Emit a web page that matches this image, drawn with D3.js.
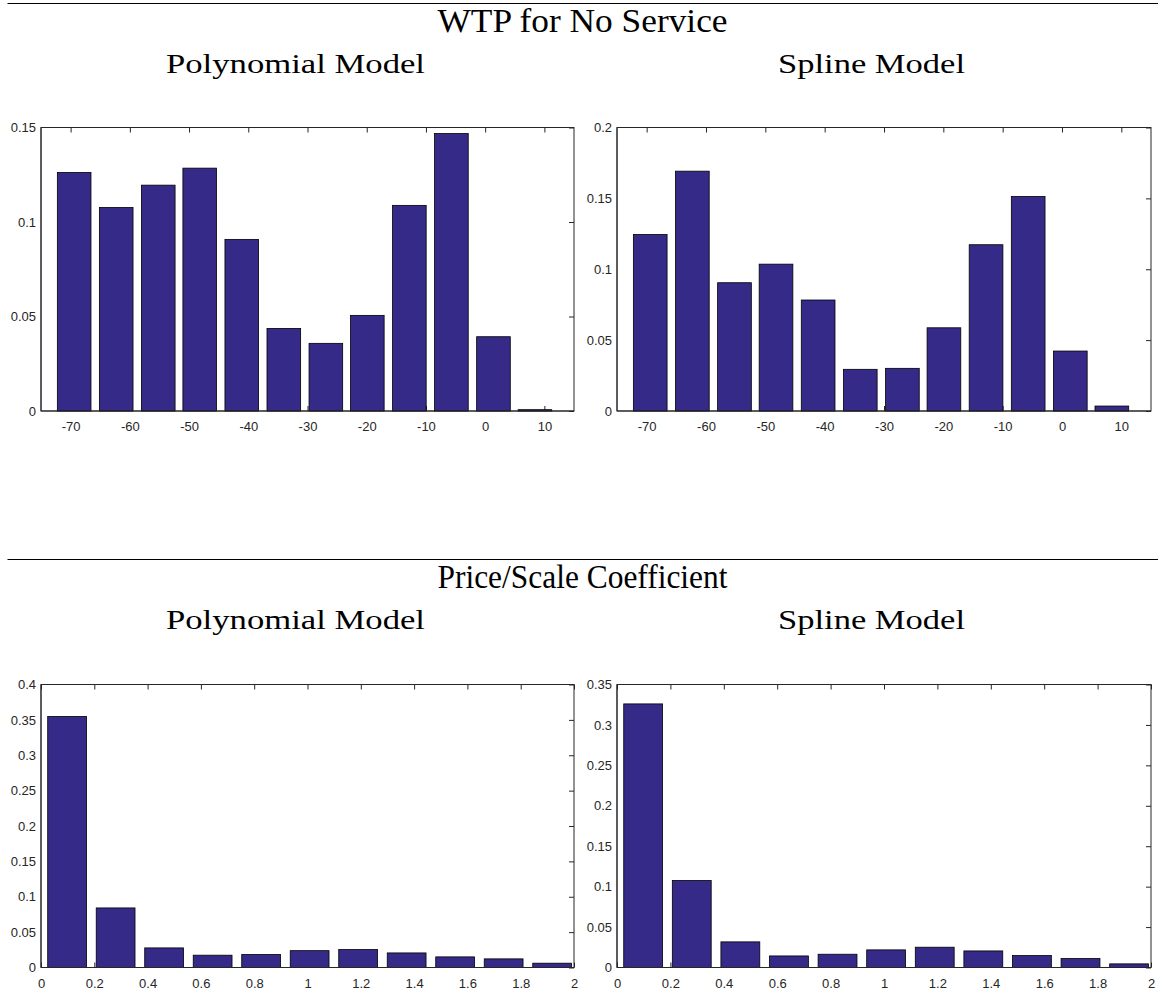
<!DOCTYPE html>
<html>
<head>
<meta charset="utf-8">
<script src="https://cdn.jsdelivr.net/npm/d3@7"></script>
<style>
  body { margin: 0; background: #fff; }
  svg { display: block; }
</style>
</head>
<body>
<script>
// Histogram bin centres and relative frequencies
const wtpCenters = [-69.4, -62.3, -55.2, -48.2, -41.1, -34.0, -26.9, -19.9, -12.8, -5.7, 1.4, 8.4];
const wtpPoly    = [0.1262, 0.1077, 0.1195, 0.1285, 0.0908, 0.0437, 0.0358, 0.0506, 0.1088, 0.1468, 0.0393, 0.0007];
const wtpSpline  = [0.1245, 0.1692, 0.0905, 0.1036, 0.0783, 0.0294, 0.0301, 0.0587, 0.1173, 0.1513, 0.0423, 0.0035];
const wtpTicksX  = [-70, -60, -50, -40, -30, -20, -10, 0, 10];
const wtpTicksYPoly   = [0, 0.05, 0.1, 0.15];
const wtpTicksYSpline = [0, 0.05, 0.1, 0.15, 0.2];

const priceCenters = [0.098, 0.280, 0.462, 0.644, 0.826, 1.008, 1.190, 1.372, 1.554, 1.736, 1.918];
const pricePoly    = [0.3548, 0.0842, 0.0277, 0.0174, 0.0184, 0.0238, 0.0254, 0.0206, 0.0150, 0.0122, 0.0061];
const priceSpline  = [0.3260, 0.1076, 0.0317, 0.0143, 0.0164, 0.0218, 0.0251, 0.0205, 0.0148, 0.0111, 0.0045];
const priceTicksX  = [0, 0.2, 0.4, 0.6, 0.8, 1, 1.2, 1.4, 1.6, 1.8, 2];
const priceTicksYPoly   = [0, 0.05, 0.1, 0.15, 0.2, 0.25, 0.3, 0.35, 0.4];
const priceTicksYSpline = [0, 0.05, 0.1, 0.15, 0.2, 0.25, 0.3, 0.35];

const W = 1163, H = 993;
const BAR_FILL = "#352a87";
const AX = "#262626";
const fmt = d => String(+d.toFixed(3));

const svg = d3.select("body").append("svg")
  .attr("width", W).attr("height", H)
  .attr("viewBox", `0 0 ${W} ${H}`);

// Section rules and titles
function heading(y, title) {
  svg.append("line")
    .attr("x1", 7.5).attr("x2", 1158).attr("y1", y).attr("y2", y)
    .attr("stroke", "#000").attr("stroke-width", 1.2);
  const tt = [
    { t: title, x: 582.5, dy: 28.5, w: 290, s: 33 },
    { t: "Polynomial Model", x: 295.5, dy: 69.5, w: 259, s: 27 },
    { t: "Spline Model", x: 871.5, dy: 69.5, w: 187, s: 27 }
  ];
  tt.forEach(o => {
    svg.append("text")
      .attr("x", o.x - o.w / 2).attr("y", y + o.dy)
      .attr("textLength", o.w).attr("lengthAdjust", "spacingAndGlyphs")
      .attr("font-family", "'Liberation Serif', 'DejaVu Serif', serif")
      .attr("font-size", o.s).attr("fill", "#000")
      .text(o.t);
  });
}

function panel(box, xDomain, yDomain, centers, values, xTicks, yTicks) {
  const x = d3.scaleLinear().domain(xDomain).range([box.x0, box.x1]);
  const y = d3.scaleLinear().domain(yDomain).range([box.y1, box.y0]);
  const g = svg.append("g");
  const tick = 5;

  // bottom ticks (drawn beneath the bars) with labels
  const bottom = g.append("g").attr("transform", `translate(0,${box.y1})`)
    .call(d3.axisBottom(x).tickValues(xTicks).tickFormat(fmt)
      .tickSizeInner(-tick).tickSizeOuter(0).tickPadding(11));
  bottom.select(".domain").remove();
  bottom.selectAll(".tick line").attr("stroke", AX);
  bottom.selectAll(".tick text").attr("y", 11);

  // left labels
  const left = g.append("g").attr("transform", `translate(${box.x0},0)`)
    .call(d3.axisLeft(y).tickValues(yTicks).tickFormat(fmt)
      .tickSize(0).tickPadding(5));
  left.select(".domain").remove();

  // top ticks
  const top = g.append("g").attr("transform", `translate(0,${box.y0})`)
    .call(d3.axisTop(x).tickValues(xTicks).tickFormat("")
      .tickSizeInner(-tick).tickSizeOuter(0));
  top.select(".domain").remove();
  top.selectAll(".tick line").attr("stroke", AX);

  // right ticks
  const right = g.append("g").attr("transform", `translate(${box.x1},0)`)
    .call(d3.axisRight(y).tickValues(yTicks).tickFormat("")
      .tickSizeInner(-tick).tickSizeOuter(0));
  right.select(".domain").remove();
  right.selectAll(".tick line").attr("stroke", AX);

  [bottom, left].forEach(a => a.selectAll(".tick text")
    .attr("font-family", "'Liberation Sans', Arial, sans-serif")
    .attr("font-size", 13).attr("fill", AX));

  // frame
  g.append("rect")
    .attr("x", box.x0).attr("y", box.y0)
    .attr("width", box.x1 - box.x0).attr("height", box.y1 - box.y0)
    .attr("fill", "none").attr("stroke", AX).attr("stroke-width", 1);

  // bars
  const binW = centers[1] - centers[0];
  const bw = 0.8 * binW;
  g.append("g").selectAll("rect")
    .data(values)
    .join("rect")
    .attr("x", (d, i) => x(centers[i] - bw / 2))
    .attr("width", (d, i) => x(centers[i] + bw / 2) - x(centers[i] - bw / 2))
    .attr("y", d => y(d))
    .attr("height", d => y(0) - y(d))
    .attr("fill", BAR_FILL)
    .attr("stroke", "#000").attr("stroke-width", 0.8);

  // left and bottom axis lines over the bars
  g.append("line").attr("x1", box.x0).attr("x2", box.x1)
    .attr("y1", box.y1).attr("y2", box.y1).attr("stroke", AX);
  g.append("line").attr("x1", box.x0).attr("x2", box.x0)
    .attr("y1", box.y0).attr("y2", box.y1).attr("stroke", AX);
}

heading(3.5, "WTP for No Service");
heading(559.5, "Price/Scale Coefficient");

const L = { x0: 41, x1: 574 }, R = { x0: 617, x1: 1151 };
const T = { y0: 127.5, y1: 411 }, B = { y0: 684.5, y1: 967.5 };

panel({ ...L, ...T }, [-75, 15], [0, 0.15], wtpCenters, wtpPoly, wtpTicksX, wtpTicksYPoly);
panel({ ...R, ...T }, [-75, 15], [0, 0.2], wtpCenters, wtpSpline, wtpTicksX, wtpTicksYSpline);
panel({ ...L, ...B }, [0, 2], [0, 0.4], priceCenters, pricePoly, priceTicksX, priceTicksYPoly);
panel({ ...R, ...B }, [0, 2], [0, 0.35], priceCenters, priceSpline, priceTicksX, priceTicksYSpline);
</script>
</body>
</html>
